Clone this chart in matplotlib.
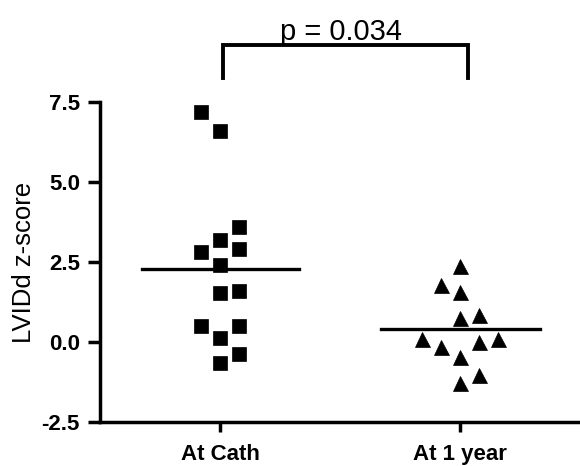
import matplotlib
matplotlib.use("Agg")
import matplotlib.pyplot as plt
import numpy as np

plt.rcParams['font.family'] = ['Liberation Sans', 'DejaVu Sans']

groups = ["At Cath", "At 1 year"]
cath_offsets = [-0.08, 0.0, 0.08, 0.0, -0.08, 0.08, 0.0, 0.0, 0.08, -0.08, 0.08, 0.0, 0.08, 0.0]
cath_values = [7.2, 6.6, 3.6, 3.2, 2.82, 2.9, 2.4, 1.52, 1.6, 0.51, 0.51, 0.12, -0.38, -0.67]
year_offsets = [0.0, -0.08, 0.0, 0.0, 0.08, -0.16, -0.08, 0.08, 0.16, 0.0, 0.08, 0.0]
year_values = [2.375, 1.78, 1.57, 0.74, 0.84, 0.09, -0.15, 0.01, 0.09, -0.46, -1.03, -1.29]
y_ticks = [-2.5, 0.0, 2.5, 5.0, 7.5]
p_text = "p = 0.034"

fig = plt.figure(figsize=(5.8, 4.66), dpi=100)
ax = fig.add_axes([100/580, 1-422/466, 480/580, 320/466])

ax.plot(np.array(cath_offsets) + 0, cath_values, linestyle='none', marker='s',
        markersize=10.3, color='black', markeredgewidth=0.5, clip_on=False, zorder=3)
ax.plot(np.array(year_offsets) + 1, year_values, linestyle='none', marker='^',
        markersize=10.8, color='black', markeredgewidth=0.5, clip_on=False, zorder=3)

ax.plot([-0.325, 0.33], [np.mean(cath_values)] * 2, color='black', lw=2.4, zorder=2)
ax.plot([0.67, 1.335], [np.mean(year_values) + 0.03] * 2, color='black', lw=2.4, zorder=2)

ax.set_xlim(-0.5, 1.5)
ax.set_ylim(-2.5, 7.5)
ax.set_xticks([0, 1])
ax.set_xticklabels(groups, fontsize=16, fontweight='bold')
ax.set_yticks(y_ticks)
ax.set_yticklabels([f"{v:.1f}" for v in y_ticks], fontsize=16, fontweight='bold')
ax.set_ylabel("LVIDd z-score", fontsize=18.5, labelpad=4)

for s in ['top', 'right']:
    ax.spines[s].set_visible(False)
for s in ['left', 'bottom']:
    ax.spines[s].set_linewidth(2.5)
ax.tick_params(axis='y', width=2.5, length=8.5, pad=6)
ax.tick_params(axis='x', width=2.5, length=7, pad=9)

# significance bracket
ax.plot([0.012, 0.012, 1.033, 1.033], [8.25, 9.28, 9.28, 8.25], color='black',
        lw=2.8, clip_on=False, solid_joinstyle='miter')
ax.text(0.505, 9.45, p_text, ha='center', va='baseline', fontsize=21)

fig.savefig("out.png", dpi=100)
